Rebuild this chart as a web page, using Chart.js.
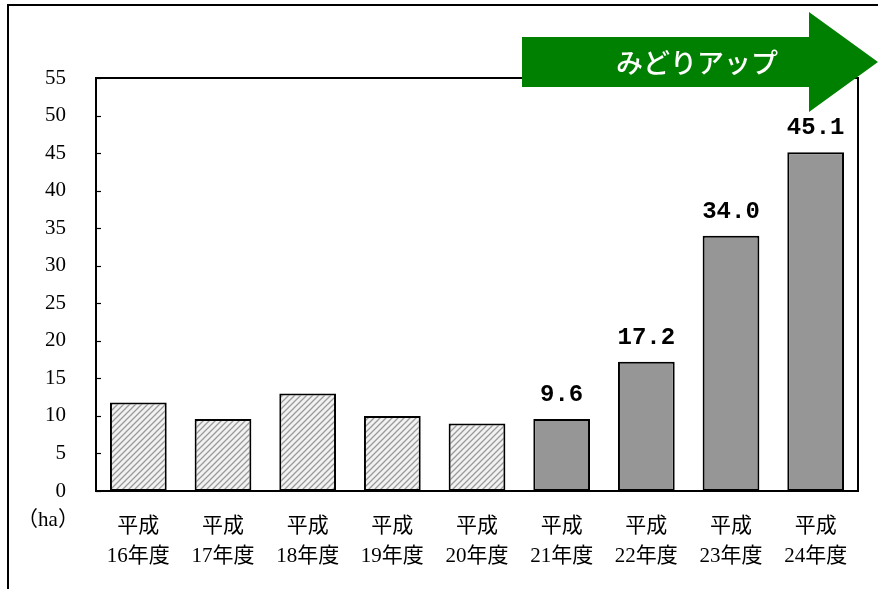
<!DOCTYPE html>
<html lang="ja">
<head>
<meta charset="utf-8">
<script src="https://cdn.jsdelivr.net/npm/chart.js@4"></script>
<style>
    html, body { margin: 0; padding: 0; background: #fff; }
    #wrap { width: 878px; height: 589px; position: relative; }
</style>
</head>
<body>
<div id="wrap"><canvas id="midori-chart"></canvas></div>
<script>
    'use strict';

    var yearLabels = ['16年度', '17年度', '18年度', '19年度', '20年度', '21年度', '22年度', '23年度', '24年度'];
    var areaValues = [11.8, 9.6, 13.0, 10.0, 9.0, 9.6, 17.2, 34.0, 45.1];
    // first years are drawn hatched, the later ones solid gray with a value label
    var isHatched = [true, true, true, true, true, false, false, false, false];
    var yTicks = [0, 5, 10, 15, 20, 25, 30, 35, 40, 45, 50, 55];
    var unitLabel = '（ha）';
    var arrowText = 'みどりアップ';

    var serif = '"Liberation Serif", "Noto Sans CJK JP", serif';

    // diagonal stripe pattern for the older years
    function makeHatch() {
        var c = document.createElement('canvas');
        c.width = 6;
        c.height = 6;
        var g = c.getContext('2d');
        g.fillStyle = '#f2f2f2';
        g.fillRect(0, 0, 6, 6);
        g.strokeStyle = '#9a9a9a';
        g.lineWidth = 1.3;
        g.beginPath();
        g.moveTo(-1, 7); g.lineTo(7, -1);
        g.moveTo(-1, 1); g.lineTo(1, -1);
        g.moveTo(5, 7); g.lineTo(7, 5);
        g.stroke();
        return g.createPattern(c, 'repeat');
    }
    var hatch = makeHatch();

    var fills = isHatched.map(function (h) { return h ? hatch : '#969696'; });

    var decorations = {
        id: 'decorations',
        beforeDraw: function (chart) {
            var ctx = chart.ctx;
            ctx.save();
            ctx.strokeStyle = '#000';
            ctx.lineWidth = 2;
            ctx.beginPath();
            ctx.moveTo(8, chart.height);
            ctx.lineTo(8, 5);
            ctx.lineTo(chart.width, 5);
            ctx.stroke();
            ctx.restore();
        },
        afterDatasetsDraw: function (chart) {
            var ctx = chart.ctx;
            var area = chart.chartArea;
            var yScale = chart.scales.y;
            ctx.save();

            // plot frame
            ctx.strokeStyle = '#000';
            ctx.lineWidth = 2;
            ctx.strokeRect(area.left, area.top, area.right - area.left, area.bottom - area.top);

            // short inward ticks on the value axis
            ctx.lineWidth = 1.2;
            yScale.ticks.forEach(function (t) {
                var y = Math.round(yScale.getPixelForValue(t.value)) + 0.5;
                ctx.beginPath();
                ctx.moveTo(area.left, y);
                ctx.lineTo(area.left + 5, y);
                ctx.stroke();
            });

            // value labels over the solid bars
            var meta = chart.getDatasetMeta(0);
            ctx.fillStyle = '#000';
            ctx.font = 'bold 24px "Liberation Mono", monospace';
            ctx.textAlign = 'center';
            ctx.textBaseline = 'middle';
            meta.data.forEach(function (bar, i) {
                if (isHatched[i]) return;
                ctx.fillText(areaValues[i].toFixed(1), bar.x, bar.y - 24);
            });

            // unit under the value axis
            ctx.font = '21px ' + serif;
            ctx.textAlign = 'center';
            ctx.fillText(unitLabel, 48, area.bottom + 29);

            // green arrow
            ctx.fillStyle = '#008000';
            ctx.beginPath();
            ctx.moveTo(522, 37);
            ctx.lineTo(809, 37);
            ctx.lineTo(809, 12);
            ctx.lineTo(878, 62);
            ctx.lineTo(809, 112);
            ctx.lineTo(809, 87);
            ctx.lineTo(522, 87);
            ctx.closePath();
            ctx.fill();
            ctx.fillStyle = '#fff';
            ctx.font = '500 27px "Noto Sans CJK JP", sans-serif';
            ctx.fillText(arrowText, 697, 63);
            ctx.restore();
        },
    };

    new Chart(document.getElementById('midori-chart'), {
        type: 'bar',
        data: {
            labels: yearLabels.map(function (y) { return ['平成', y]; }),
            datasets: [
                {
                    data: areaValues,
                    backgroundColor: fills,
                    borderColor: '#000',
                    borderWidth: 2,
                    borderSkipped: false,
                    categoryPercentage: 1,
                    barPercentage: 0.67,
                },
            ],
        },
        options: {
            responsive: true,
            maintainAspectRatio: false,
            animation: false,
            layout: { padding: { top: 78, right: 20, left: 0, bottom: 0 } },
            plugins: {
                legend: { display: false },
                tooltip: { enabled: false },
            },
            scales: {
                x: {
                    grid: { display: false, drawTicks: false },
                    border: { display: false },
                    ticks: {
                        color: '#000',
                        padding: 20,
                        font: { family: serif, size: 21, lineHeight: 1.45 },
                        maxRotation: 0,
                    },
                    afterFit: function (scale) { scale.height = 589 - 491; },
                },
                y: {
                    min: 0,
                    max: 55,
                    afterBuildTicks: function (scale) {
                        scale.ticks = yTicks.map(function (v) { return { value: v }; });
                    },
                    grid: { display: false, drawTicks: false },
                    border: { display: false },
                    ticks: {
                        color: '#000',
                        padding: 30,
                        font: { family: serif, size: 21 },
                    },
                    afterFit: function (scale) { scale.width = 96; },
                },
            },
        },
        plugins: [decorations],
    });
</script>
</body>
</html>
